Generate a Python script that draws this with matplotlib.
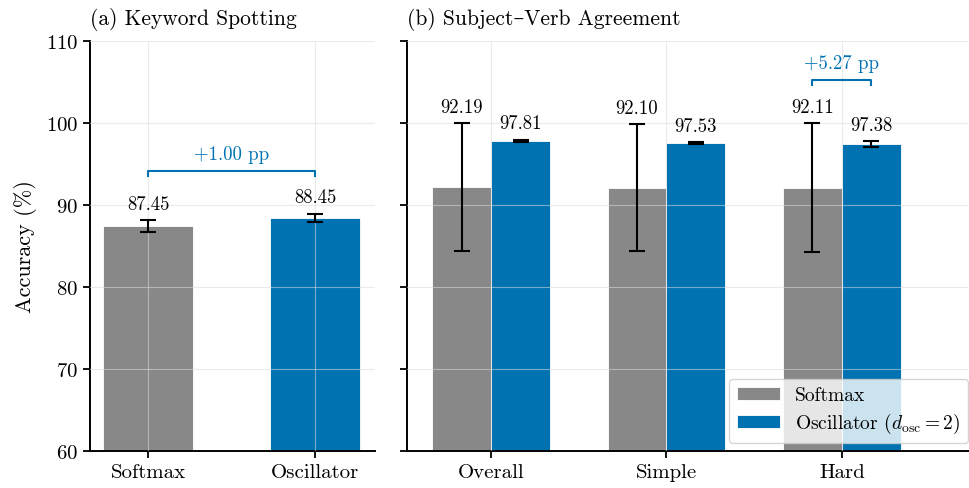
import matplotlib

matplotlib.use("Agg")
import matplotlib.pyplot as plt

plt.rcParams.update({
    "font.family": ["cmr10", "DejaVu Serif"],
    "mathtext.fontset": "cm",
    "axes.formatter.use_mathtext": True,
    "axes.unicode_minus": False,
})

SOFTMAX_COLOR = "#888888"
OSC_COLOR = "#0072B2"

# (a) keyword spotting
kws_labels = ["Softmax", "Oscillator"]
kws_mean = [87.45, 88.45]
kws_err = [0.72, 0.50]

# (b) subject-verb agreement
sva_labels = ["Overall", "Simple", "Hard"]
sva_softmax_mean = [92.19, 92.10, 92.11]
sva_softmax_err = [7.80, 7.72, 7.85]
sva_osc_mean = [97.81, 97.53, 97.38]
sva_osc_err = [0.12, 0.08, 0.38]

fig = plt.figure(figsize=(9.69, 4.89), dpi=100)
ax_a = fig.add_axes([0.0929, 0.075, 0.2941, 0.8397])
ax_b = fig.add_axes([0.42, 0.075, 0.579, 0.8397], sharey=ax_a)

err_kw = dict(ecolor="black", elinewidth=1.5, capsize=6, capthick=1.5, zorder=3)
val_fs = 13.5
note_fs = 13.5


def style(ax):
    ax.set_ylim(60, 110)
    ax.set_yticks([60, 70, 80, 90, 100, 110])
    ax.grid(True, color="#dcdcdc", linewidth=0.8, alpha=0.55, zorder=2)
    ax.set_axisbelow(False)
    for side in ("top", "right"):
        ax.spines[side].set_visible(False)
    for side in ("left", "bottom"):
        ax.spines[side].set_linewidth(1.4)
    ax.tick_params(axis="both", labelsize=15, width=1.3, length=5, colors="black")


def bracket(ax, x0, x1, y, text):
    leg = 0.65
    ax.plot([x0, x0, x1, x1], [y - leg, y, y, y - leg], color=OSC_COLOR,
            linewidth=1.5, zorder=4, clip_on=False)
    ax.text((x0 + x1) / 2, y + 0.9, text, color=OSC_COLOR, fontsize=note_fs,
            ha="center", va="bottom")


# (a) bars
xa = list(range(len(kws_labels)))
ax_a.bar(xa, kws_mean, width=0.54, color=[SOFTMAX_COLOR, OSC_COLOR],
         edgecolor="white", linewidth=0.6, zorder=1)
ax_a.errorbar(xa, kws_mean, yerr=kws_err, fmt="none", **err_kw)
for x, m, e in zip(xa, kws_mean, kws_err):
    ax_a.text(x, m + e + 0.9, f"{m:.2f}", ha="center", va="bottom", fontsize=val_fs)
top_a = max(m + e for m, e in zip(kws_mean, kws_err))
bracket(ax_a, xa[0], xa[1], top_a + 5.2, f"+{kws_mean[1] - kws_mean[0]:.2f} pp")
ax_a.set_xticks(xa)
ax_a.set_xticklabels(kws_labels)
ax_a.set_xlim(-0.35, 1.36)
style(ax_a)
ax_a.set_ylabel("Accuracy (%)", fontsize=16, labelpad=6)
ax_a.set_title("(a) Keyword Spotting", loc="left", fontsize=15.5, pad=12)

# (b) grouped bars
w = 0.336
xb = list(range(len(sva_labels)))
xs = [x - w / 2 for x in xb]
xo = [x + w / 2 for x in xb]
ax_b.bar(xs, sva_softmax_mean, width=w, color=SOFTMAX_COLOR, edgecolor="white",
         linewidth=0.6, zorder=1, label="Softmax")
ax_b.bar(xo, sva_osc_mean, width=w, color=OSC_COLOR, edgecolor="white",
         linewidth=0.6, zorder=1, label=r"Oscillator ($d_{\mathrm{osc}}=2$)")
ax_b.errorbar(xs, sva_softmax_mean, yerr=sva_softmax_err, fmt="none", **err_kw)
ax_b.errorbar(xo, sva_osc_mean, yerr=sva_osc_err, fmt="none", **err_kw)
for xx, means, errs in ((xs, sva_softmax_mean, sva_softmax_err),
                        (xo, sva_osc_mean, sva_osc_err)):
    for x, m, e in zip(xx, means, errs):
        ax_b.text(x, m + e + 0.9, f"{m:.2f}", ha="center", va="bottom", fontsize=val_fs)
hard = sva_labels.index("Hard")
top_h = max(sva_softmax_mean[hard] + sva_softmax_err[hard],
            sva_osc_mean[hard] + sva_osc_err[hard])
gain = sva_osc_mean[hard] - sva_softmax_mean[hard]
bracket(ax_b, xs[hard], xo[hard], top_h + 5.3, f"+{gain:.2f} pp")
ax_b.set_xticks(xb)
ax_b.set_xticklabels(sva_labels)
ax_b.set_xlim(-0.48, 2.72)
style(ax_b)
ax_b.tick_params(axis="y", labelleft=False)
ax_b.set_title("(b) Subject–Verb Agreement", loc="left", fontsize=15.5, pad=12)
ax_b.legend(loc="lower right", bbox_to_anchor=(1.0, 0.02), borderaxespad=0.0,
            fontsize=14, framealpha=0.8, handlelength=2.2, labelspacing=0.35)

fig.savefig("out.png", dpi=100)
